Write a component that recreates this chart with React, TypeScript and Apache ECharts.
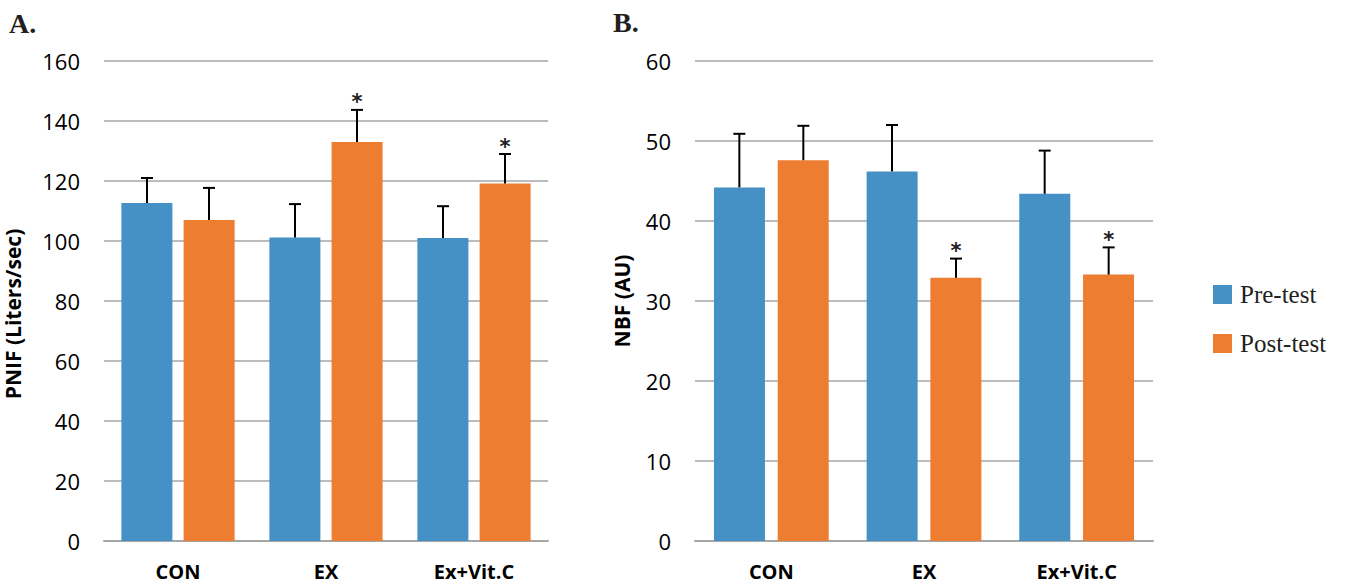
import React, { useEffect, useRef } from "react";
import * as echarts from "echarts";

const categories = ["CON", "EX", "Ex+Vit.C"];
const seriesNames = ["Pre-test", "Post-test"];

const pnifPre = [112.7, 101.2, 101.0];
const pnifPreErr = [121.0, 112.3, 111.6];
const pnifPost = [107.0, 133.0, 119.2];
const pnifPostErr = [117.7, 143.7, 129.0];
const pnifSig = [false, true, true];

const nbfPre = [44.2, 46.2, 43.4];
const nbfPreErr = [50.9, 52.0, 48.8];
const nbfPost = [47.6, 32.9, 33.3];
const nbfPostErr = [51.9, 35.3, 36.7];
const nbfSig = [false, true, true];

const pnifTicks = [0, 20, 40, 60, 80, 100, 120, 140, 160];
const nbfTicks = [0, 10, 20, 30, 40, 50, 60];

const BLUE = "#4590c4";
const ORANGE = "#ed7d31";
const GRID = "#a6a6a6";
const SANS = "'Open Sans', 'Noto Sans', sans-serif";
const SERIF = "'Liberation Serif', serif";

function errSeries(
  gi: number,
  tops: number[],
  vals: number[],
  sig: boolean[] | null,
  offset: number
) {
  return {
    type: "custom",
    xAxisIndex: gi,
    yAxisIndex: gi,
    z: 5,
    silent: true,
    data: tops.map((t, i) => [i, vals[i], t, sig && sig[i] ? 1 : 0]),
    renderItem: (params: any, api: any) => {
      const x = api.value(0);
      const base = api.coord([x, api.value(1)]);
      const top = api.coord([x, api.value(2)]);
      const bw = api.size([1, 0])[0];
      const cx = base[0] + bw * offset;
      const children: any[] = [
        { type: "line", shape: { x1: cx, y1: base[1], x2: cx, y2: top[1] }, style: { stroke: "#000", lineWidth: 2 } },
        { type: "line", shape: { x1: cx - 6, y1: top[1], x2: cx + 6, y2: top[1] }, style: { stroke: "#000", lineWidth: 2 } },
      ];
      if (api.value(3)) {
        children.push({
          type: "text",
          x: cx,
          y: top[1] + 3,
          style: { text: "*", fontSize: 21, fontWeight: "bold", fontFamily: "'DejaVu Sans', sans-serif", fill: "#222", align: "center", verticalAlign: "bottom" },
        });
      }
      return { type: "group", children };
    },
  };
}

export default function App() {
  const ref = useRef<HTMLDivElement>(null);
  useEffect(() => {
    if (!ref.current) return;
    const chart = echarts.init(ref.current, null, { renderer: "svg" });
    const yAxis = (name: string, ticks: number[], gap: number, pad: number[]) => ({
      type: "value",
      min: ticks[0],
      max: ticks[ticks.length - 1],
      interval: ticks[1] - ticks[0],
      name,
      nameLocation: "middle",
      nameGap: gap,
      nameTextStyle: { fontFamily: SANS, fontWeight: "bold", fontSize: 21, color: "#000", padding: pad },
      axisLine: { show: false },
      axisTick: { show: false },
      axisLabel: { fontFamily: SANS, fontSize: 22, color: "#000", margin: 24 },
      splitLine: { lineStyle: { color: GRID, width: 1.5 } },
    });
    const xAxis = (gi: number) => ({
      type: "category",
      gridIndex: gi,
      data: categories,
      axisLine: { lineStyle: { color: GRID, width: 2 } },
      axisTick: { show: false },
      axisLabel: { fontFamily: SANS, fontWeight: "bold", fontSize: 20, color: "#000", margin: 20 },
    });
    const barOffsetL = 0.5 * (51 + 11) / 148;
    const barOffsetR = 0.5 * (51 + 13) / 152.7;
    chart.setOption({
      animation: false,
      graphic: [
        { type: "text", left: 9, top: 9, style: { text: "A.", fontFamily: SERIF, fontWeight: "bold", fontSize: 28, fill: "#231f20" } },
        { type: "text", left: 613, top: 8, style: { text: "B.", fontFamily: SERIF, fontWeight: "bold", fontSize: 28, fill: "#231f20" } },
      ],
      legend: {
        data: seriesNames,
        orient: "vertical",
        left: 1208,
        top: 277,
        itemWidth: 19,
        itemHeight: 19,
        itemGap: 24,
        icon: "rect",
        textStyle: { fontFamily: SERIF, fontSize: 25, color: "#231f20", padding: [0, 0, 0, 3] },
      },
      grid: [
        { left: 104, right: 801, top: 61, bottom: 44 },
        { left: 695, right: 196, top: 61, bottom: 44 },
      ],
      xAxis: [xAxis(0), xAxis(1)],
      yAxis: [
        { ...yAxis("PNIF (Liters/sec)", pnifTicks, 81, [0, 26, 0, 0]), gridIndex: 0 },
        { ...yAxis("NBF (AU)", nbfTicks, 63, [0, 0, 0, 0]), gridIndex: 1 },
      ],
      series: [
        { name: "Pre-test", type: "bar", xAxisIndex: 0, yAxisIndex: 0, data: pnifPre, barWidth: 51, barGap: "22%", itemStyle: { color: BLUE } },
        { name: "Post-test", type: "bar", xAxisIndex: 0, yAxisIndex: 0, data: pnifPost, barWidth: 51, barGap: "22%", itemStyle: { color: ORANGE } },
        { name: "Pre-test", type: "bar", xAxisIndex: 1, yAxisIndex: 1, data: nbfPre, barWidth: 51, barGap: "25%", itemStyle: { color: BLUE } },
        { name: "Post-test", type: "bar", xAxisIndex: 1, yAxisIndex: 1, data: nbfPost, barWidth: 51, barGap: "25%", itemStyle: { color: ORANGE } },
        errSeries(0, pnifPreErr, pnifPre, null, -barOffsetL),
        errSeries(0, pnifPostErr, pnifPost, pnifSig, barOffsetL),
        errSeries(1, nbfPreErr, nbfPre, null, -barOffsetR),
        errSeries(1, nbfPostErr, nbfPost, nbfSig, barOffsetR),
      ],
    });
    return () => chart.dispose();
  }, []);
  return <div ref={ref} style={{ width: 1349, height: 585, position: "absolute", left: 0, top: 0 }} />;
}
